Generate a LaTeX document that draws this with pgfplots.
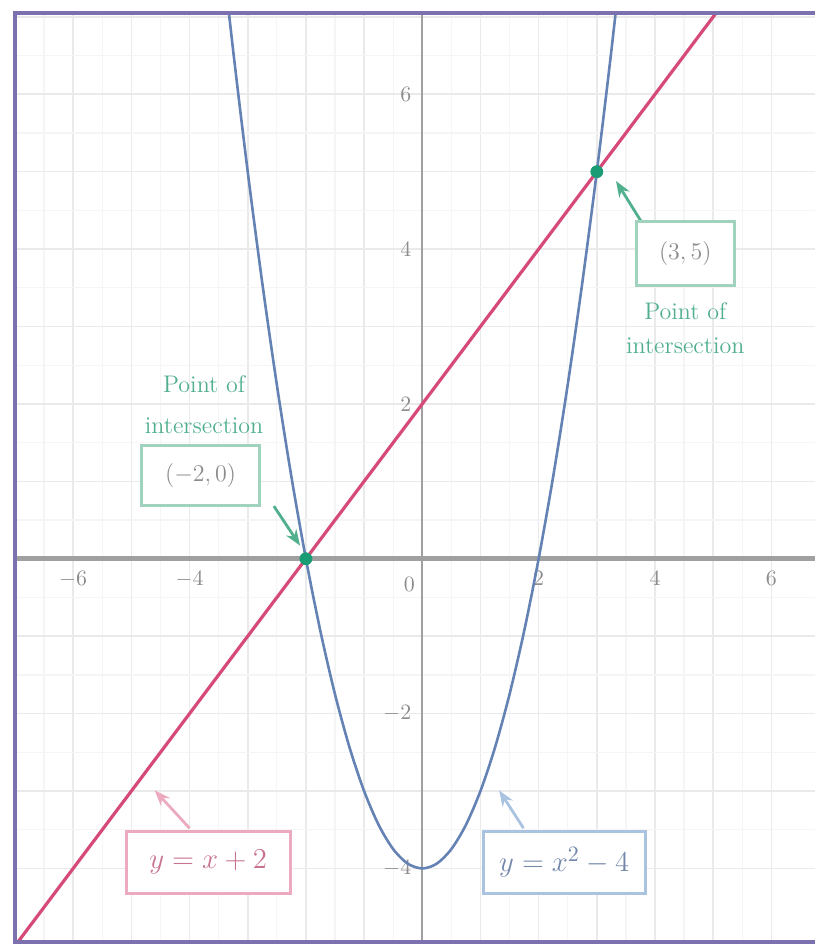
\documentclass[border=0pt]{standalone}
\usepackage{pgfplots}
\pgfplotsset{compat=1.18}
\usetikzlibrary{arrows.meta}

\definecolor{linepink}{RGB}{214,74,120}
\definecolor{parablue}{RGB}{100,130,180}
\definecolor{ptgreen}{RGB}{25,155,115}
\definecolor{txtgreen}{RGB}{80,175,140}
\definecolor{boxgreen}{RGB}{160,210,190}
\definecolor{boxpink}{RGB}{235,170,190}
\definecolor{txtpink}{RGB}{200,115,145}
\definecolor{boxblue}{RGB}{170,195,225}
\definecolor{txtblue}{RGB}{115,135,170}
\definecolor{framecol}{RGB}{125,112,175}
\definecolor{axisgray}{RGB}{160,160,160}
\definecolor{tickgray}{RGB}{140,140,140}
\definecolor{gridmajor}{RGB}{234,234,234}
\definecolor{gridminor}{RGB}{245,245,245}

\begin{document}
\begin{tikzpicture}
\begin{axis}[
    name=ax,
    width=400pt, height=464.5pt, scale only axis,
    xmin=-7, xmax=6.75, ymin=-4.95, ymax=7.05,
    axis lines=middle,
    x axis line style={-, draw=axisgray, line width=2.4pt},
    y axis line style={-, draw=axisgray, line width=1.2pt},
    xtick={-7,-6,...,6},
    xticklabels={,$-6$,,$-4$,,,,,,$2$,,$4$,,$6$},
    ytick={-4,-3,...,7},
    yticklabels={$-4$,,$-2$,,,,$2$,,$4$,,$6$,},
    minor tick num=1,
    major tick length=0pt, minor tick length=0pt,
    grid=both,
    major grid style={draw=gridmajor, line width=0.8pt},
    minor grid style={draw=gridminor, line width=0.6pt},
    tick label style={font=\fontsize{11}{13}\selectfont, text=tickgray},
    xticklabel style={yshift=-3pt},
    yticklabel style={xshift=-2pt},
]
% y = x + 2
\addplot[color=linepink, line width=1.6pt] coordinates {(-7.5,-5.5) (5.5,7.5)};
% y = x^2 - 4
\addplot[color=parablue, line width=1.3pt, smooth] coordinates {
    (-3.5,8.25) (-3.25,6.5625) (-3,5) (-2.75,3.5625) (-2.5,2.25) (-2.25,1.0625)
    (-2,0) (-1.75,-0.9375) (-1.5,-1.75) (-1.25,-2.4375) (-1,-3) (-0.75,-3.4375)
    (-0.5,-3.75) (-0.25,-3.9375) (0,-4) (0.25,-3.9375) (0.5,-3.75) (0.75,-3.4375)
    (1,-3) (1.25,-2.4375) (1.5,-1.75) (1.75,-0.9375) (2,0) (2.25,1.0625)
    (2.5,2.25) (2.75,3.5625) (3,5) (3.25,6.5625) (3.5,8.25)
};
% points of intersection
\addplot[only marks, mark=*, mark size=3pt, color=ptgreen] coordinates {(-2,0) (3,5)};

\node[text=tickgray, font=\fontsize{11}{13}\selectfont] at (axis cs:-0.22,-0.33) {$0$};

% annotations
\draw[-{Stealth[length=8pt,width=6pt]}, draw=txtgreen, fill=ptgreen, line width=1.4pt]
    (axis cs:-2.55,0.68) -- (axis cs:-2.1,0.17);
\draw[-{Stealth[length=8pt,width=6pt]}, draw=txtgreen, fill=ptgreen, line width=1.4pt]
    (axis cs:3.76,4.36) -- (axis cs:3.33,4.88);
\draw[-{Stealth[length=8pt,width=6pt]}, draw=boxpink, fill=linepink, line width=1.4pt]
    (axis cs:-4.0,-3.48) -- (axis cs:-4.6,-2.99);
\draw[-{Stealth[length=8pt,width=6pt]}, draw=boxblue, fill=parablue, line width=1.4pt]
    (axis cs:1.74,-3.48) -- (axis cs:1.32,-2.99);

\node[draw=boxgreen, fill=white, line width=1.5pt, text=tickgray, minimum width=59pt, minimum height=30pt,
      font=\fontsize{13}{15}\selectfont] at (axis cs:-3.81,1.08) {$(-2,0)$};
\node[text=txtgreen, font=\fontsize{12}{14}\selectfont] at (axis cs:-3.75,2.26) {Point of};
\node[text=txtgreen, font=\fontsize{12}{14}\selectfont] at (axis cs:-3.75,1.72) {intersection};

\node[draw=boxgreen, fill=white, line width=1.5pt, text=tickgray, minimum width=49pt, minimum height=32pt,
      font=\fontsize{13}{15}\selectfont] at (axis cs:4.52,3.94) {$(3,5)$};
\node[text=txtgreen, font=\fontsize{12}{14}\selectfont] at (axis cs:4.52,3.20) {Point of};
\node[text=txtgreen, font=\fontsize{12}{14}\selectfont] at (axis cs:4.52,2.75) {intersection};

\node[draw=boxpink, fill=white, line width=1.5pt, text=txtpink, minimum width=82pt, minimum height=31pt,
      font=\fontsize{15}{17}\selectfont] at (axis cs:-3.68,-3.92) {$y=x+2$};
\node[draw=boxblue, fill=white, line width=1.5pt, text=txtblue, minimum width=81pt, minimum height=31pt,
      font=\fontsize{15}{17}\selectfont] at (axis cs:2.44,-3.92) {$y=x^2-4$};
\end{axis}
% frame (left, top, bottom)
\draw[framecol, line width=2pt] (ax.south east) -- (ax.south west) -- (ax.north west) -- (ax.north east);
\path ([xshift=-7.5pt,yshift=-1.5pt]ax.south west) rectangle ([yshift=6.5pt]ax.north east);
\end{tikzpicture}
\end{document}
